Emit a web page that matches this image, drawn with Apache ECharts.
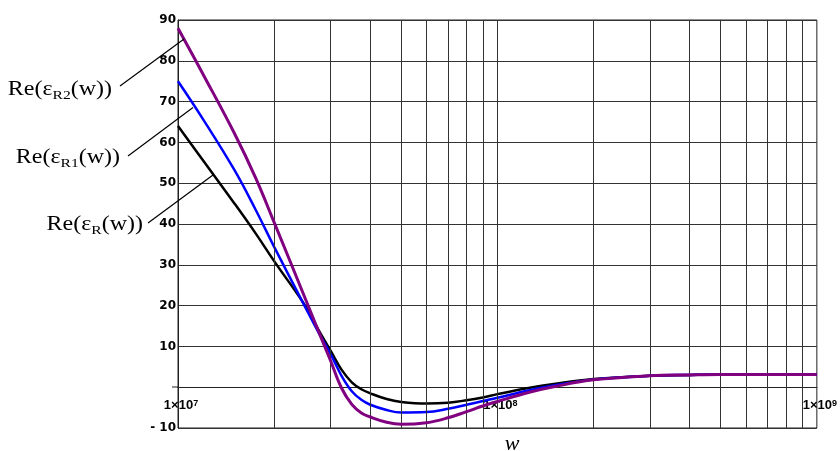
<!DOCTYPE html>
<html><head><meta charset="utf-8">
<script src="https://cdn.jsdelivr.net/npm/echarts@6/dist/echarts.min.js"></script>
<style>html,body{margin:0;padding:0;background:#fff}#c{width:840px;height:451px}</style>
</head><body><div id="c"></div>
<script>
// frequency samples (w)
const W    = [1e7, 1.2e7, 1.5e7, 1.75e7, 2e7, 2.5e7, 2.75e7, 3e7, 3.25e7, 3.5e7, 3.75e7, 4e7, 4.5e7, 5e7, 6e7, 7e7, 8e7, 9e7, 1e8, 1.25e8, 1.5e8, 2e8, 3e8, 4e8, 5e8, 1e9];
// Re(eps_R(w)) black
const reR  = [64, 55.5, 45.1, 37.7, 30.9, 20.0, 14.1, 9.0, 4.3, 1.2, -0.5, -1.5, -2.9, -3.6, -4.0, -3.8, -3.2, -2.5, -1.7, -0.2, 0.8, 2.0, 2.8, 3.0, 3.1, 3.1];
// Re(eps_R1(w)) blue
const reR1 = [75, 65.6, 53.3, 43.5, 34.4, 19.7, 13.5, 8.2, 2.8, -1.0, -3.1, -4.3, -5.6, -6.2, -6.1, -5.3, -4.3, -3.4, -2.6, -0.8, 0.4, 1.9, 2.8, 3.0, 3.1, 3.1];
// Re(eps_R2(w)) purple
const reR2 = [88, 76.6, 62.3, 51.3, 40.4, 21.8, 13.8, 6.6, -0.2, -4.2, -6.3, -7.3, -8.6, -9.1, -8.7, -7.5, -6.0, -4.6, -3.5, -1.3, 0.1, 1.8, 2.8, 3.0, 3.1, 3.1];
// vertical grid lines (log decades)
const gridW = [2e7,3e7,4e7,5e7,6e7,7e7,8e7,9e7,1e8,2e8,3e8,4e8,5e8,6e8,7e8,8e8,9e8];
// y axis
const yMin = -10, yMax = 90, yStep = 10;

const pairs = arr => W.map((w, i) => [w, arr[i]]);
const chart = echarts.init(document.getElementById('c'), null, {renderer: 'canvas'});

const gridTop = 20, gridBottom = 23, chartH = 451;
const plotH = chartH - gridTop - gridBottom;
const zeroOffset = -plotH * (0 - yMin) / (yMax - yMin);

const labelRich = () => ({
  a: {fontFamily: 'Liberation Serif', fontSize: 20, lineHeight: 24, color: '#000'},
  s: {fontFamily: 'Liberation Serif', fontSize: 13, lineHeight: 12, verticalAlign: 'bottom', color: '#000'}
});

chart.setOption({
  animation: false,
  grid: {left: 178, right: 23, top: gridTop, bottom: gridBottom, show: true, borderColor: '#222', borderWidth: 1},
  xAxis: {
    type: 'log', logBase: 10, min: 1e7, max: 1e9,
    offset: zeroOffset,
    axisLine: {show: true, onZero: false, lineStyle: {color: '#222', width: 1}},
    axisTick: {show: false},
    splitLine: {show: false},
    axisLabel: {
      margin: 12,
      padding: [0, 0, 0, 6],
      formatter: v => '{a|1×10}{s|' + Math.round(Math.log10(v)) + '}',
      rich: {
        a: {fontFamily: 'Liberation Sans', fontWeight: 'bold', fontSize: 13, color: '#000'},
        s: {fontFamily: 'Liberation Sans', fontWeight: 'bold', fontSize: 9, verticalAlign: 'top', color: '#000'}
      }
    }
  },
  yAxis: {
    type: 'value', min: yMin, max: yMax, interval: yStep,
    axisLine: {show: true, lineStyle: {color: '#222', width: 1}},
    axisTick: {show: false},
    splitLine: {show: true, lineStyle: {color: '#333', width: 1}},
    axisLabel: {
      margin: 2, fontFamily: 'DejaVu Sans', fontWeight: 'bold', fontSize: 12, color: '#000',
      formatter: v => v === 0 ? '' : (v < 0 ? '- ' + (-v) : String(v))
    }
  },
  series: [
    {
      type: 'line', data: [], silent: true, z: 1,
      markLine: {
        silent: true, symbol: ['none', 'none'], label: {show: false},
        lineStyle: {color: '#333', width: 1, type: 'solid'},
        emphasis: {disabled: true},
        data: gridW.map(v => ({xAxis: v}))
      }
    },
    {name: 'Re(εR(w))', type: 'line', data: pairs(reR), smooth: 0.4, showSymbol: false, z: 3,
     lineStyle: {color: '#000000', width: 2.5}},
    {name: 'Re(εR1(w))', type: 'line', data: pairs(reR1), smooth: 0.4, showSymbol: false, z: 4,
     lineStyle: {color: '#0000ff', width: 2.5}},
    {name: 'Re(εR2(w))', type: 'line', data: pairs(reR2), smooth: 0.4, showSymbol: false, z: 5,
     lineStyle: {color: '#800080', width: 3}}
  ],
  graphic: [
    {type: 'line', shape: {x1: 120, y1: 86, x2: 184, y2: 39}, style: {stroke: '#000', lineWidth: 1.2}, z: 10},
    {type: 'line', shape: {x1: 128, y1: 156, x2: 193, y2: 107.5}, style: {stroke: '#000', lineWidth: 1.2}, z: 10},
    {type: 'line', shape: {x1: 148, y1: 223, x2: 213, y2: 175}, style: {stroke: '#000', lineWidth: 1.2}, z: 10},
    {type: 'line', shape: {x1: 172, y1: 387, x2: 178, y2: 387}, style: {stroke: '#222', lineWidth: 1}, z: 10},
    {type: 'text', x: 112, y: 90, scaleX: 1.2, z: 10,
     style: {text: '{a|Re(ε}{s|R2}{a|(w))}', rich: labelRich(), textAlign: 'right', textVerticalAlign: 'middle'}},
    {type: 'text', x: 120, y: 158, scaleX: 1.2, z: 10,
     style: {text: '{a|Re(ε}{s|R1}{a|(w))}', rich: labelRich(), textAlign: 'right', textVerticalAlign: 'middle'}},
    {type: 'text', x: 143, y: 225, scaleX: 1.2, z: 10,
     style: {text: '{a|Re(ε}{s|R}{a|(w))}', rich: labelRich(), textAlign: 'right', textVerticalAlign: 'middle'}},
    {type: 'text', x: 512, y: 444, z: 10,
     style: {text: 'w', font: 'italic 22px "Liberation Serif"', fill: '#000', textAlign: 'center', textVerticalAlign: 'middle'}}
  ]
});
</script>
</body></html>
